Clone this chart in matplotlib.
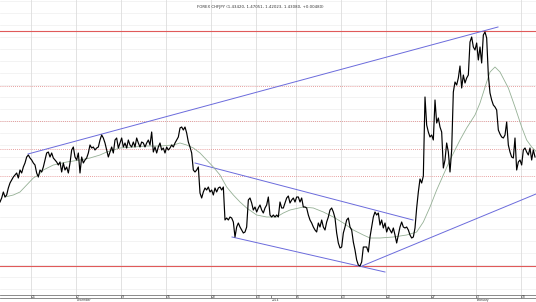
import numpy as np
import matplotlib
matplotlib.use("Agg")
import matplotlib.pyplot as plt
from matplotlib.lines import Line2D
from matplotlib.transforms import blended_transform_factory

# ---- data (bar index, price level in chart units) ----
close_a = [98,102,108,103,105,112,117,120,123,125,
           127,122,130,127,133,137,143,145,142,140,
           137,135,127,123,130,128,133,140,147,148,
           143,147,142,140,138,135,138,128,137,130,
           133,127,137,150,153,143,140,147,127,143,
           137,140,142,147,155,152,153,150,152,153,
           160,165,162,157,150,143,148,153,147,160,
           162,152,157,162,153,157,152,160,155,153,
           158,153,162,157,153,158,157,153,157,160,
           155,168,148,153,147,153,157,150,152,147,
           153,150,152,155,153,157,160,163]
close_b = [172,173,170,173,167,158,153,147,130,128,
           130,133,107,102,108,112,110,113,108,110,
           105,112,108,112,113,110,113,80,82,80,
           83,82,78,63,73,77,73,70,67,68,
           73,100,102,97,90,93,88,92,95,90,
           87,92,95,103,85,83,85,83,85,83,
           98,92,92,97,102,104,97,100,102,98,
           103,103,98,102,93,93,92,85,80,77,
           73,70,68,77,73,80,73,70,78,83,
           90,92,88,82,67,57,52,53,67,73,
           80,82,73,70,58,50,40,35,34,38,
           53,53,53,48,63,73,83,88,85,87,
           75,80,72,77,68,73,70,67,72,65,
           57,65,73,78,73,72,73,70,65,62,
           63]
close_c = [72,92,108,121,117,124,203,175,168,163,
           165,160,200,177,182,173,168,132,140,157,
           148,128,150,208,218,215,222,234,212,225,
           217,222,225,258,263,253,250,257,240,253,
           237,265,268,262,225,207,200,195,193,190,
           170,166,163,162,165,178,155,148,143,142,
           162,130,138,140,135,150,152,148,145,152,
           140,150,143]
close = np.array(close_a + close_b + close_c, dtype=float)
bars = np.arange(len(close))

ma_x = [3,8,12,16,20,23,26,32,40,48,54,60,64,72,80,88,96,104,108,112,116,120,
        124,128,132,136,140,144,148,154,160,166,170,174,182,188,194,200,206,212,
        218,222,228,236,244,250,254,258,262,266,270,276,280,285,288,292,294,297,
        300,305,309,313,316,319,322]
ma_y = [103,105,108,115,122,125,130,135,138,140,142,145,148,152,153,154,154,155,157,155,152,147,
        140,133,125,113,105,98,92,85,83,83,87,90,93,92,88,83,77,70,
        65,62,62,63,65,68,78,93,110,125,140,160,172,185,197,218,228,233,
        228,212,193,173,160,153,148]

# trend lines (start / end bar, start / end level)
trend_x0 = [16.8, 117.0, 139.2, 217.2]
trend_x1 = [298.8, 247.8, 231.0, 321.6]
trend_y0 = [146, 137, 63, 34]
trend_y1 = [273, 80, 28, 106]

fib_high = 269
fib_low = 34
fib_ratios = [0.236, 0.382, 0.5, 0.618]

tick_pos = [18.6, 45.6, 72.6, 99.6, 126.6, 153.6, 162.6, 177.6, 204.6, 231.6, 258.6, 285.6, 312.6]
tick_lab = ['25', '2', '9', '16', '23', '30', '', '6', '13', '20', '27', '3', '10']
sub_pos = [45.6, 162.6, 285.6]
sub_lab = ['December', '2014', 'February']
title = 'FOREX CHFJPY (1.43420, 1.47051, 1.42023, 1.43080, +0.00480)'

# ---- figure ----
W, H = 536, 302
fig = plt.figure(figsize=(W / 100, H / 100), dpi=100)
ax = fig.add_axes([0, 7 / H, 1, 295 / H])
ax.set_xlim(0, W * 0.6)
ax.set_ylim(5, 300)
for s in ['top', 'right', 'left']:
    ax.spines[s].set_visible(False)
ax.spines['bottom'].set_color('#777777')
ax.spines['bottom'].set_linewidth(0.6)
ax.set_yticks([])

# gridlines
for lv in np.arange(11, 300, 12):
    ax.axhline(lv, color='#efefef', lw=0.5, zorder=0)
for p in tick_pos:
    if p != 162.6:
        ax.axvline(p, color='#dddddd', lw=0.6, zorder=0)

# fib / red lines
ax.axhline(fib_high, color='#e05a5a', lw=0.8, zorder=1)
ax.axhline(fib_low, color='#e05a5a', lw=0.8, zorder=1)
for r in fib_ratios:
    ax.axhline(fib_high - r * (fib_high - fib_low), color='#e08080', lw=0.6,
               ls=(0, (1, 1.5)), zorder=1)

# trend lines
for x0, x1, y0, y1 in zip(trend_x0, trend_x1, trend_y0, trend_y1):
    ax.plot([x0, x1], [y0, y1], color='#6b6bdc', lw=0.7, zorder=2)

ax.plot(ma_x, ma_y, color='#95b095', lw=0.6, zorder=3)
ax.plot(bars, close, color='black', lw=0.85, zorder=4)

ax.set_xticks(tick_pos)
ax.set_xticklabels([])
ax.tick_params(axis='x', direction='out', length=2.5, width=0.5, color='#555555')
tr = blended_transform_factory(ax.transData, fig.transFigure)
for p, l in zip(tick_pos, tick_lab):
    ax.text(p + 0.6, 5.2 / H, l, transform=tr, fontsize=2.2, color='#333333',
            ha='left', va='center')
for p, l in zip(sub_pos, sub_lab):
    ax.text(p + 0.3, 0.2 / H, l, transform=tr, fontsize=2.1, color='#333333',
            ha='left', va='bottom')

fig.add_artist(Line2D([0, 1], [4.5 / H, 4.5 / H], transform=fig.transFigure,
                      color='#777777', lw=0.6))
fig.text(0.485, 0.985, title, fontsize=2.8, color='#333333', ha='center', va='top')

fig.savefig('out.png', dpi=100)
